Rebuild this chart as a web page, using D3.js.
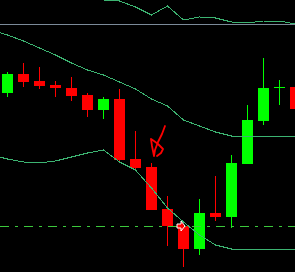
<!DOCTYPE html>
<html>
<head>
<meta charset="utf-8">
<script src="https://cdn.jsdelivr.net/npm/d3@7"></script>
<style>
  html, body { margin: 0; padding: 0; background: #000; overflow: hidden; }
  svg { display: block; }
</style>
</head>
<body>
<div id="chart"></div>
<script>
// chart size
const width = 295;
const height = 272;

// candle data (one entry per bar)
const opens  = [1.1179, 1.1198, 1.1191, 1.1187, 1.1184, 1.1177, 1.1162, 1.1173, 1.1113, 1.1105,
                1.1063, 1.1046, 1.1023, 1.1059, 1.1055, 1.1108, 1.1151, 1.1185, 1.1185];
const highs  = [1.1200, 1.1209, 1.1205, 1.1191, 1.1195, 1.1179, 1.1175, 1.1183, 1.1141, 1.1109,
                1.1076, 1.1046, 1.1073, 1.1096, 1.1117, 1.1167, 1.1214, 1.1192, 1.1185];
const lows   = [1.1175, 1.1185, 1.1183, 1.1175, 1.1171, 1.1155, 1.1153, 1.1109, 1.1102, 1.1062,
                1.1026, 1.1005, 1.1017, 1.1051, 1.1044, 1.1108, 1.1147, 1.1167, 1.1163];
const closes = [1.1198, 1.1190, 1.1186, 1.1184, 1.1176, 1.1162, 1.1173, 1.1112, 1.1104, 1.1062,
                1.1046, 1.1023, 1.1059, 1.1055, 1.1109, 1.1152, 1.1184, 1.1185, 1.1163];

// bollinger bands, one value per bar starting one bar before the first candle
const bandUpper  = [1.1367, 1.1361, 1.1352, 1.1339, 1.1323, 1.1303, 1.1285, 1.1272, 1.1271, 1.1265,
                    1.1257, 1.1266, 1.1252, 1.1255, 1.1254, 1.1250, 1.1249, 1.1251, 1.1251, 1.1248];
const bandMiddle = [1.1242, 1.1237, 1.1231, 1.1224, 1.1217, 1.1209, 1.1202, 1.1197, 1.1190, 1.1183,
                    1.1173, 1.1166, 1.1152, 1.1146, 1.1140, 1.1136, 1.1136, 1.1136, 1.1136, 1.1135];
const bandLower  = [1.1117, 1.1113, 1.1110, 1.1109, 1.1111, 1.1115, 1.1119, 1.1122, 1.1110, 1.1102,
                    1.1084, 1.1064, 1.1050, 1.1037, 1.1027, 1.1023, 1.1023, 1.1023, 1.1023, 1.1023];

// horizontal levels
const levelGray = 1.1248;
const levelDash = 1.1046;

const svg = d3.select("#chart")
  .append("svg")
  .attr("width", width)
  .attr("height", height);

svg.append("rect")
  .attr("width", width)
  .attr("height", height)
  .attr("fill", "#000");

/*
  Scales
*/

// price scale, no visible axis
const yScale = d3.scaleLinear()
  .domain([1.1000, 1.1272])
  .range([height, 0]);

// bar slots, 16px step with 11px bodies
const xScale = d3.scaleBand()
  .domain(d3.range(opens.length))
  .range([-0.5, 303.5])
  .paddingInner(5 / 16)
  .paddingOuter(5 / 32);

const step = xScale.step();
const bw = xScale.bandwidth();

// band points use the candle centres, plus one bar before
const xBand = d3.scalePoint()
  .domain(d3.range(-1, opens.length))
  .range([xScale(0) + bw / 2 - step, xScale(opens.length - 1) + bw / 2]);

const py = v => Math.round(yScale(v));

const candles = opens.map((o, i) => ({
  i: i, open: o, high: highs[i], low: lows[i], close: closes[i]
}));

/*
  Candles
*/

const colorOf = d => d.close >= d.open ? "#00ff00" : "#ff0000";

svg.selectAll(".wick")
  .data(candles)
  .enter()
  .append("line")
    .attr("class", "wick")
    .attr("x1", d => xScale(d.i) + bw / 2)
    .attr("x2", d => xScale(d.i) + bw / 2)
    .attr("y1", d => py(d.high))
    .attr("y2", d => py(d.low))
    .attr("stroke", colorOf)
    .attr("stroke-width", 1)
    .attr("shape-rendering", "crispEdges");

svg.selectAll(".body")
  .data(candles)
  .enter()
  .append("rect")
    .attr("class", "body")
    .attr("x", d => xScale(d.i))
    .attr("y", d => py(Math.max(d.open, d.close)))
    .attr("width", bw)
    .attr("height", d => Math.max(1, Math.abs(py(d.open) - py(d.close))))
    .attr("fill", colorOf)
    .attr("shape-rendering", "crispEdges");

/*
  Bands and levels
*/

const bandLine = d3.line()
  .x((d, i) => xBand(i - 1))
  .y(d => yScale(d));

[bandUpper, bandMiddle, bandLower].forEach(band => {
  svg.append("path")
    .datum(band)
    .attr("d", bandLine)
    .attr("fill", "none")
    .attr("stroke", "#3cb371")
    .attr("stroke-width", 1)
    .attr("shape-rendering", "crispEdges");
});

svg.append("line")
  .attr("x1", 0).attr("x2", width)
  .attr("y1", py(levelGray) + 0.5).attr("y2", py(levelGray) + 0.5)
  .attr("stroke", "#7b8a99")
  .attr("stroke-width", 1)
  .attr("shape-rendering", "crispEdges");

svg.append("line")
  .attr("x1", 0).attr("x2", width)
  .attr("y1", py(levelDash) + 0.5).attr("y2", py(levelDash) + 0.5)
  .attr("stroke", "#3cc83c")
  .attr("stroke-width", 1)
  .attr("stroke-dasharray", "9,6,3,6")
  .attr("shape-rendering", "crispEdges");

/*
  Hand drawn note and cursor
*/

const scribble = [[165,126],[162,134],[158,142],[155,150],[154,156],[152,146],[151,139],
                  [154,141],[158,144],[163,149],[161,153],[157,156]];

svg.append("path")
  .attr("d", d3.line()(scribble))
  .attr("fill", "none")
  .attr("stroke", "#ff0000")
  .attr("stroke-width", 1.8)
  .attr("stroke-linejoin", "round")
  .attr("stroke-linecap", "round");

const cursor = [[177,224],[181,224],[181,221],[185,226],[181,231],[181,228],[177,228]];

svg.append("path")
  .attr("d", d3.line()(cursor) + "Z")
  .attr("fill", "#ff0000")
  .attr("stroke", "#ffffff")
  .attr("stroke-width", 1);
</script>
</body>
</html>
